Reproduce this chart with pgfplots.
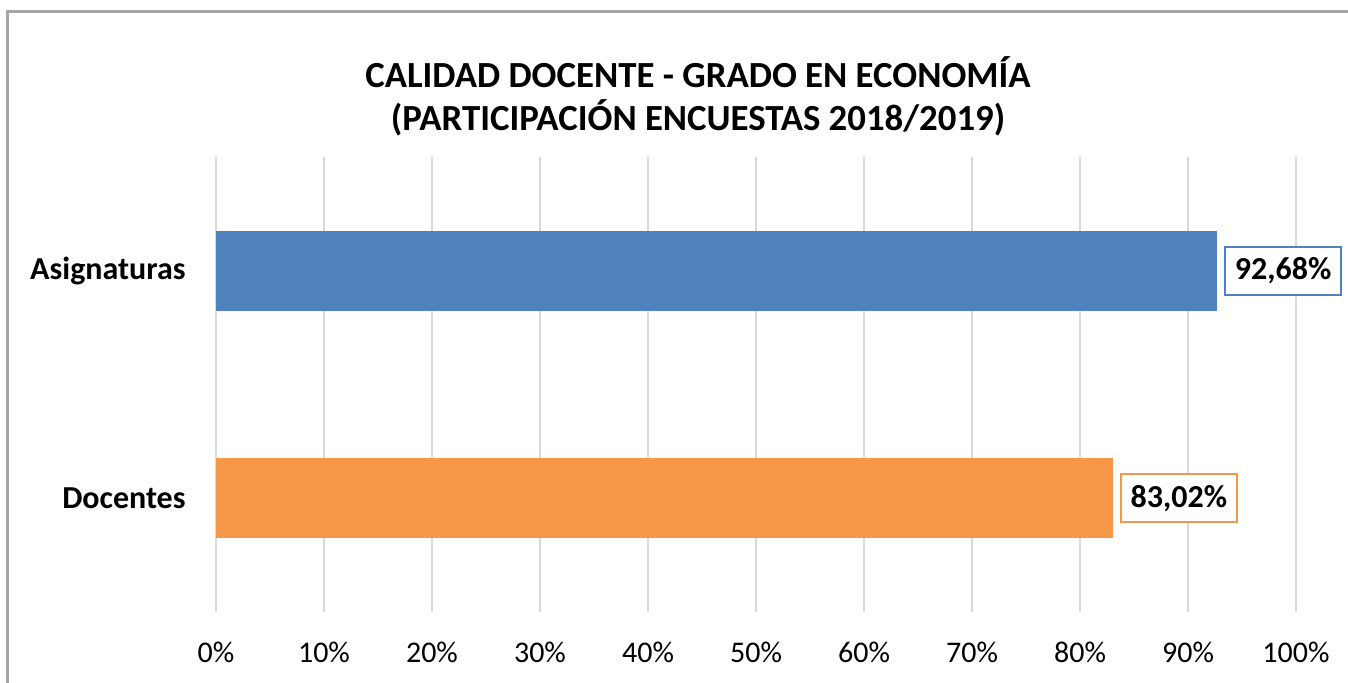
\documentclass[border=0pt]{standalone}
\usepackage{pgfplots}
\pgfplotsset{compat=1.18}
\usepackage{fontspec}
\setmainfont{Carlito}

\definecolor{barblue}{HTML}{4F81BD}
\definecolor{barorange}{HTML}{F79646}
\definecolor{gridgray}{HTML}{D9D9D9}
\definecolor{framegray}{HTML}{A6A6A6}

\begin{document}
\begin{tikzpicture}
  % 1 px of the reference = 0.5pt
  \useasboundingbox (0,0) rectangle (674pt,-341.5pt);
  \fill[white] (0,0) rectangle (674pt,-341.5pt);
  \draw[framegray, line width=1.5pt] (3.75pt,-350pt) -- (3.75pt,-5.75pt) -- (690pt,-5.75pt);

  \node[anchor=base, font=\fontsize{18.4}{20}\selectfont\bfseries] at (349pt,-44pt)
    {CALIDAD DOCENTE - GRADO EN ECONOMÍA};
  \node[anchor=base, font=\fontsize{18.4}{20}\selectfont\bfseries] at (349pt,-65.5pt)
    {(PARTICIPACIÓN ENCUESTAS 2018/2019)};

  \begin{axis}[
    at={(108pt,-306pt)}, anchor=south west,
    scale only axis,
    width=540pt, height=227.5pt,
    xmin=0, xmax=100,
    ymin=-0.5, ymax=1.5,
    xbar, bar width=40pt, bar shift=0pt,
    axis line style={draw=none},
    major tick length=0pt,
    xmajorgrids,
    grid style={gridgray, line width=0.75pt},
    xtick={0,10,...,100},
    xticklabel={\pgfmathprintnumber{\tick}\%},
    /pgf/number format/assume math mode=true,
    xticklabel style={font=\fontsize{15}{18}\selectfont, anchor=base, yshift=-25pt},
    ytick={0,1},
    yticklabels={Docentes,Asignaturas},
    yticklabel style={font=\fontsize{16}{19}\selectfont\bfseries, anchor=east, inner sep=0pt, xshift=-15pt},
    point meta=x,
    nodes near coords={\pgfmathprintnumber[fixed,fixed zerofill,precision=2,use comma]{\pgfplotspointmeta}\%},
    nodes near coords style={anchor=west, xshift=4pt, fill=white, line width=1pt,
      inner xsep=5pt, minimum height=24pt, outer sep=0pt,
      font=\fontsize{16}{19}\selectfont\bfseries, text=black},
  ]
    \addplot[fill=barblue, draw=none,
      nodes near coords style={draw=barblue}] coordinates {(92.68,1)};
    \addplot[fill=barorange, draw=none,
      nodes near coords style={draw=barorange}] coordinates {(83.02,0)};
  \end{axis}
\end{tikzpicture}
\end{document}
